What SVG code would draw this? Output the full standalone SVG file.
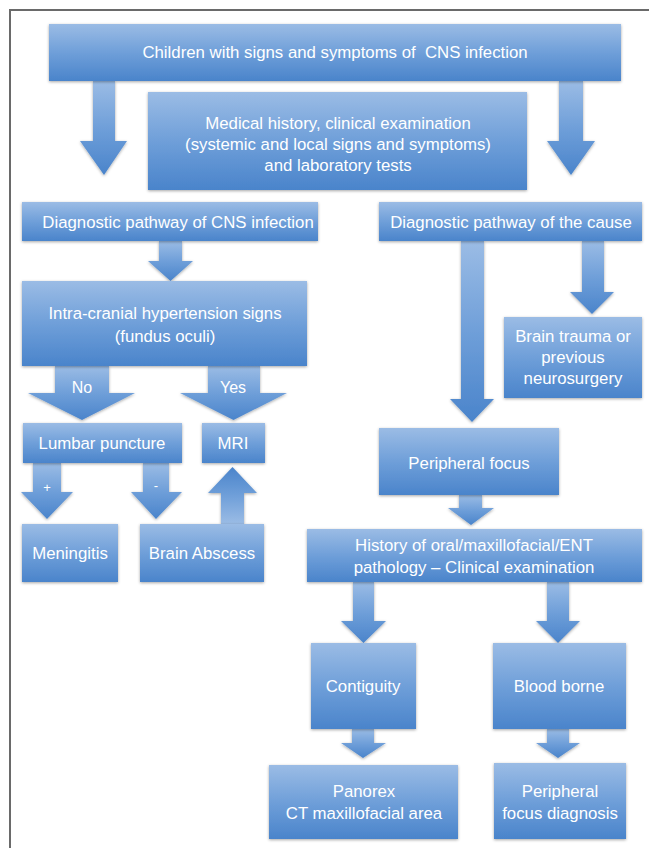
<svg xmlns="http://www.w3.org/2000/svg" width="649" height="848" viewBox="0 0 649 848">
<defs>
<linearGradient id="gb" x1="0" y1="0" x2="0" y2="1">
<stop offset="0" stop-color="#9bbce5"/>
<stop offset="0.5" stop-color="#6f9fd9"/>
<stop offset="1" stop-color="#4a84cb"/>
</linearGradient>
<linearGradient id="gu" x1="0" y1="1" x2="0" y2="0">
<stop offset="0" stop-color="#9bbce5"/>
<stop offset="0.5" stop-color="#6f9fd9"/>
<stop offset="1" stop-color="#4a84cb"/>
</linearGradient>
<filter id="sh" x="-10%" y="-20%" width="120%" height="140%">
<feDropShadow dx="0" dy="1" stdDeviation="1.5" flood-color="#000" flood-opacity="0.35"/>
</filter>
</defs>
<style>
.b{fill:url(#gb);filter:url(#sh)}
.a{fill:url(#gb);filter:url(#sh)}
.au{fill:url(#gu);filter:url(#sh)}
text{font-family:"Liberation Sans",Arial,sans-serif;font-size:16.8px;fill:#fff;text-anchor:middle}
.s{font-size:16px}
.t{font-size:13px}
</style>
<rect width="649" height="848" fill="#fff"/>
<path d="M10 848 V10 H649" fill="none" stroke="#6a6a6a" stroke-width="2"/>
<g id="connectors">
<polygon class="a" points="93,81 115,81 115,141 127,141 104,175 80,141 93,141"/>
<polygon class="a" points="559,81 583,81 583,141 595,141 571,175 547,141 559,141"/>
<polygon class="a" points="159,241 182,241 182,261 193,261 170.5,281 148,261 159,261"/>
<polygon class="a" points="55,366 109,366 109,393 135,393 82,420 28,393 55,393"/>
<polygon class="a" points="208,366 260,366 260,393 287,393 233.5,420 180,393 208,393"/>
<polygon class="a" points="33,463 61,463 61,492 73,492 47,519 21,492 33,492"/>
<polygon class="a" points="143,463 169,463 169,492 182,492 156,519 131,492 143,492"/>
<polygon class="au" points="221,524 244,524 244,493 257,493 232.5,467 208,493 221,493"/>
<polygon class="a" points="461,241 484,241 484,399 494,399 472,422 450,399 461,399"/>
<polygon class="a" points="582,241 604,241 604,292 614,292 592,314 570,292 582,292"/>
<polygon class="a" points="459,495 482,495 482,508 494,508 471,525 448,508 459,508"/>
<polygon class="a" points="353,582 374,582 374,621 386,621 363.5,643 341,621 353,621"/>
<polygon class="a" points="547,582 569,582 569,621 580,621 558,643 536,621 547,621"/>
<polygon class="a" points="352,729 374,729 374,743 386,743 363,758 341,743 352,743"/>
<polygon class="a" points="547,729 569,729 569,743 580,743 558,758 536,743 547,743"/>
<text class="s" x="82" y="393">No</text>
<text class="s" x="233" y="393">Yes</text>
<text class="t" x="47" y="492">+</text>
<text class="t" x="156" y="490">-</text>
</g>
<g id="n1"><rect class="b" x="49" y="24" width="572" height="57"/><text x="335" y="58" xml:space="preserve">Children with signs and symptoms of  CNS infection</text></g>
<g id="n2"><rect class="b" x="148" y="92" width="379" height="98"/><text x="338" y="129">Medical history, clinical examination</text><text x="338" y="150">(systemic and local signs and symptoms)</text><text x="338" y="171">and laboratory tests</text></g>
<g id="n3"><rect class="b" x="22" y="202" width="296" height="39"/><text x="178" y="228">Diagnostic pathway of CNS infection</text></g>
<g id="n4"><rect class="b" x="22" y="281" width="285" height="85"/><text x="165" y="319">Intra-cranial hypertension signs</text><text x="165" y="342">(fundus oculi)</text></g>
<g id="n5"><rect class="b" x="379" y="202" width="263" height="39"/><text x="511" y="228">Diagnostic pathway of the cause</text></g>
<g id="n6"><rect class="b" x="504" y="317" width="138" height="81"/><text x="573" y="342">Brain trauma or</text><text x="573" y="363">previous</text><text x="573" y="384">neurosurgery</text></g>
<g id="n7"><rect class="b" x="23" y="423" width="159" height="40"/><text x="102" y="449">Lumbar puncture</text></g>
<g id="n8"><rect class="b" x="202" y="423" width="63" height="40"/><text x="233" y="449">MRI</text></g>
<g id="n9"><rect class="b" x="22" y="524" width="96" height="58"/><text x="70" y="559">Meningitis</text></g>
<g id="n10"><rect class="b" x="140" y="524" width="124" height="58"/><text x="202" y="559">Brain Abscess</text></g>
<g id="n11"><rect class="b" x="379" y="428" width="180" height="67"/><text x="469" y="469">Peripheral focus</text></g>
<g id="n12"><rect class="b" x="307" y="529" width="335" height="53"/><text x="474" y="551">History of oral/maxillofacial/ENT</text><text x="474" y="573">pathology – Clinical examination</text></g>
<g id="n13"><rect class="b" x="311" y="643" width="105" height="86"/><text x="363" y="692">Contiguity</text></g>
<g id="n14"><rect class="b" x="493" y="643" width="133" height="86"/><text x="559" y="692">Blood borne</text></g>
<g id="n15"><rect class="b" x="269" y="765" width="189" height="74"/><text x="364" y="797">Panorex</text><text x="364" y="819">CT maxillofacial area</text></g>
<g id="n16"><rect class="b" x="494" y="763" width="132" height="76"/><text x="560" y="797">Peripheral</text><text x="560" y="819">focus diagnosis</text></g>
</svg>
